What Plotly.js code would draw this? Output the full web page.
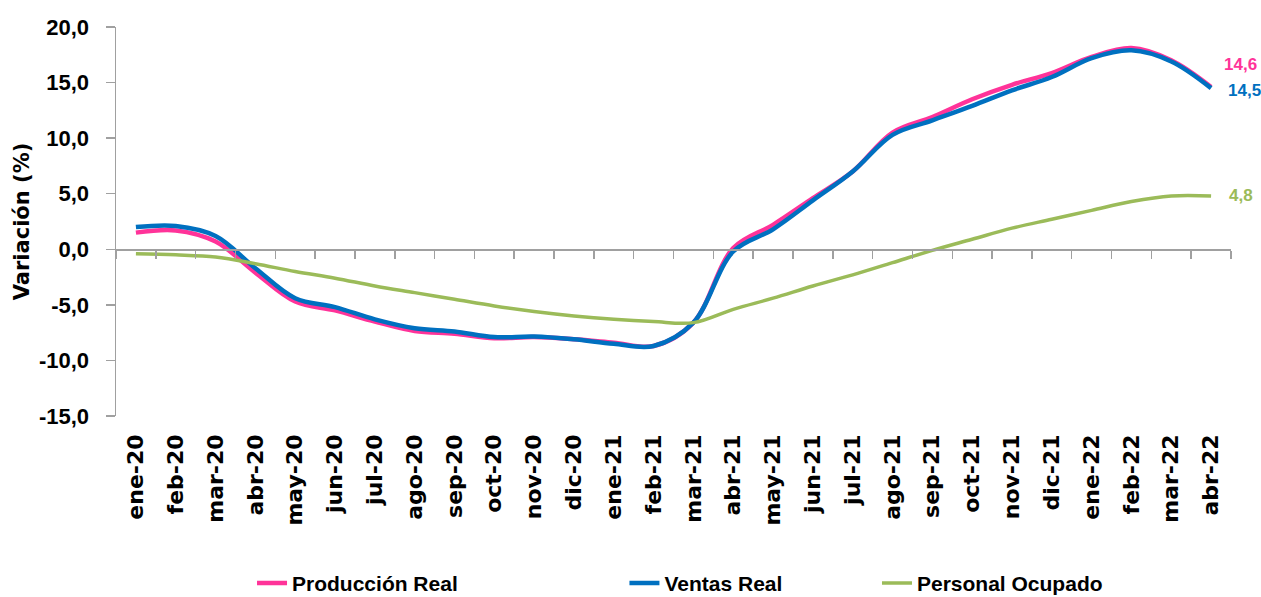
<!DOCTYPE html>
<html>
<head>
<meta charset="utf-8">
<script src="https://cdn.plot.ly/plotly-3.0.1.min.js"></script>
<style>
html,body{margin:0;padding:0;background:#fff;}
#chart{width:1261px;height:597px;}
</style>
</head>
<body>
<div id="chart"></div>
<script>
const categories = ['ene-20','feb-20','mar-20','abr-20','may-20','jun-20','jul-20','ago-20','sep-20','oct-20','nov-20','dic-20',
  'ene-21','feb-21','mar-21','abr-21','may-21','jun-21','jul-21','ago-21','sep-21','oct-21','nov-21','dic-21',
  'ene-22','feb-22','mar-22','abr-22'];
const produccionReal = [1.5,1.7,0.7,-2.1,-4.7,-5.5,-6.5,-7.35,-7.6,-8.0,-7.9,-8.1,-8.4,-8.7,-6.6,0.1,2.2,4.6,7.0,10.5,11.9,13.5,14.8,15.85,17.3,18.1,17.0,14.6];
const ventasReal = [2.0,2.1,1.2,-1.7,-4.4,-5.2,-6.3,-7.1,-7.4,-7.9,-7.85,-8.1,-8.5,-8.7,-6.6,-0.2,1.8,4.4,7.0,10.3,11.6,12.9,14.3,15.5,17.2,17.9,16.9,14.5];
const personalOcupado = [-0.4,-0.5,-0.7,-1.3,-2.0,-2.6,-3.3,-3.9,-4.5,-5.1,-5.6,-6.0,-6.3,-6.5,-6.6,-5.4,-4.4,-3.3,-2.3,-1.2,-0.1,0.9,1.9,2.7,3.5,4.3,4.8,4.8];
const seriesNames = ['Producción Real','Ventas Real','Personal Ocupado'];
const yTickVals = [-15,-10,-5,0,5,10,15,20];

const fmt = v => v.toFixed(1).replace('.', ',');
const yTickText = yTickVals.map(fmt);

const PINK = '#FF3399', BLUE = '#0070C0', GREEN = '#9BBB59';
const AXIS = '#A0A0A0';
const FONT = 'Liberation Sans, Arial, sans-serif';
const WIDE = 'DejaVu Sans, sans-serif';

const traces = [
  {x: categories, y: produccionReal, name: seriesNames[0], type: 'scatter', mode: 'lines',
   line: {color: PINK, width: 4.5, shape: 'spline', smoothing: 1}, legend: 'legend'},
  {x: categories, y: ventasReal, name: seriesNames[1], type: 'scatter', mode: 'lines',
   line: {color: BLUE, width: 4.5, shape: 'spline', smoothing: 1}, legend: 'legend2'},
  {x: categories, y: personalOcupado, name: seriesNames[2], type: 'scatter', mode: 'lines',
   line: {color: GREEN, width: 3.5, shape: 'spline', smoothing: 1}, legend: 'legend3'},
  {x: categories, y: categories.map(() => null), xaxis: 'x2', yaxis: 'y', type: 'scatter', mode: 'lines',
   showlegend: false, hoverinfo: 'skip'}
];

const n = categories.length;
const last = n - 1;
const annotations = [
  {x: categories[last], y: produccionReal[last], text: fmt(produccionReal[last]), font: {color: PINK}, xshift: 11, yshift: 23},
  {x: categories[last], y: ventasReal[last], text: fmt(ventasReal[last]), font: {color: BLUE}, xshift: 15, yshift: -2},
  {x: categories[last], y: personalOcupado[last], text: fmt(personalOcupado[last]), font: {color: GREEN}, xshift: 16, yshift: 0}
].map(a => Object.assign({xref: 'x', yref: 'y', showarrow: false, xanchor: 'left', yanchor: 'middle'}, a,
  {font: Object.assign({family: FONT, size: 17, weight: 'bold'}, a.font)}));

const legendBase = {orientation: 'h', yanchor: 'middle', y: -0.43, xanchor: 'left',
  font: {family: FONT, size: 21, color: '#000', weight: 'bold'}, bgcolor: 'rgba(0,0,0,0)', itemwidth: 30};

const layout = {
  width: 1261, height: 597,
  margin: {l: 116, r: 30, t: 27, b: 181, autoexpand: false},
  paper_bgcolor: '#fff', plot_bgcolor: '#fff',
  font: {family: FONT, color: '#000'},
  showlegend: true,
  legend: Object.assign({}, legendBase, {x: 0.122}),
  legend2: Object.assign({}, legendBase, {x: 0.456}),
  legend3: Object.assign({}, legendBase, {x: 0.6825}),
  xaxis: {
    type: 'category', categoryarray: categories, range: [-0.5, n - 0.5], automargin: false,
    showline: false, ticks: '', showgrid: false, zeroline: false,
    tickangle: -90, ticklabelstandoff: 13,
    tickfont: {family: WIDE, size: 22, color: '#000', weight: 'bold'}
  },
  xaxis2: {
    type: 'category', categoryarray: categories, range: [-0.5, n - 0.5], automargin: false,
    overlaying: 'x', anchor: 'free', position: 15 / 35,
    showline: true, linecolor: AXIS, linewidth: 1.5,
    ticks: 'outside', tickson: 'boundaries', ticklen: 8, tickcolor: AXIS, tickwidth: 1.5,
    showticklabels: false, showgrid: false, zeroline: false
  },
  yaxis: {
    range: [-15, 20], tickvals: yTickVals, ticktext: yTickText, automargin: false,
    showline: true, linecolor: AXIS, linewidth: 1.5,
    ticks: 'outside', ticklen: 9, tickcolor: AXIS, tickwidth: 1.5,
    showgrid: false, zeroline: false, ticklabelstandoff: 12,
    tickfont: {family: FONT, size: 22, color: '#000', weight: 'bold'},
    title: {text: 'Variación (%)', standoff: 3, font: {family: WIDE, size: 21, color: '#000', weight: 'bold'}}
  },
  annotations: annotations
};

Plotly.newPlot('chart', traces, layout, {staticPlot: true, displayModeBar: false});
</script>
</body>
</html>
